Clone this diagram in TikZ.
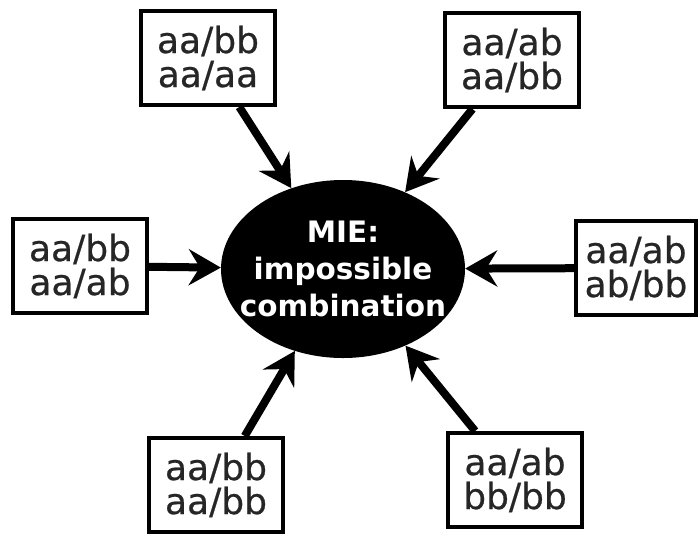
\documentclass[tikz,border=0pt]{standalone}
\usepackage{fontspec}
\setmainfont{DejaVu Sans}
\newfontfamily\boxfont[FakeBold=0.6]{DejaVu Sans}
\usetikzlibrary{arrows.meta,shapes.geometric}
\begin{document}
\begin{tikzpicture}[x=1pt,y=-1pt,
  gbox/.style={draw=black, line width=4pt, fill=white, minimum width=134pt, minimum height=94pt,
    inner sep=0pt, align=center, text=black!85,
    font=\boxfont\fontsize{36}{34}\selectfont},
  mie/.style={ellipse, fill=black, minimum width=244pt, minimum height=178pt, inner sep=0pt},
  mietext/.style={align=center, text=white, inner sep=0pt, font=\bfseries\fontsize{29.5}{37}\selectfont},
  arr/.style={line width=8pt, -{Stealth[length=32pt, width=36pt, inset=11pt]}}]
\useasboundingbox (0,0) rectangle (698,539);
\node[mie] (m) at (343,269) {};
\node[mietext] (mt) at (m) {MIE:\\impossible\\combination};
\node[gbox] (tl) at (208,58) {aa/bb\\aa/aa};
\node[gbox] (tr) at (512,60) {aa/ab\\aa/bb};
\node[gbox] (l) at (80,266) {aa/bb\\aa/ab};
\node[gbox, minimum width=120pt] (r) at (636,268) {aa/ab\\ab/bb};
\node[gbox] (bl) at (216,485) {aa/bb\\aa/bb};
\node[gbox] (br) at (515,480) {aa/ab\\bb/bb};
\draw[arr] (tl) -- (m);
\draw[arr] (tr) -- (m);
\draw[arr] (l) -- (m);
\draw[arr] (r) -- (m);
\draw[arr] (bl) -- (m);
\draw[arr] (br) -- (m);
\end{tikzpicture}
\end{document}
